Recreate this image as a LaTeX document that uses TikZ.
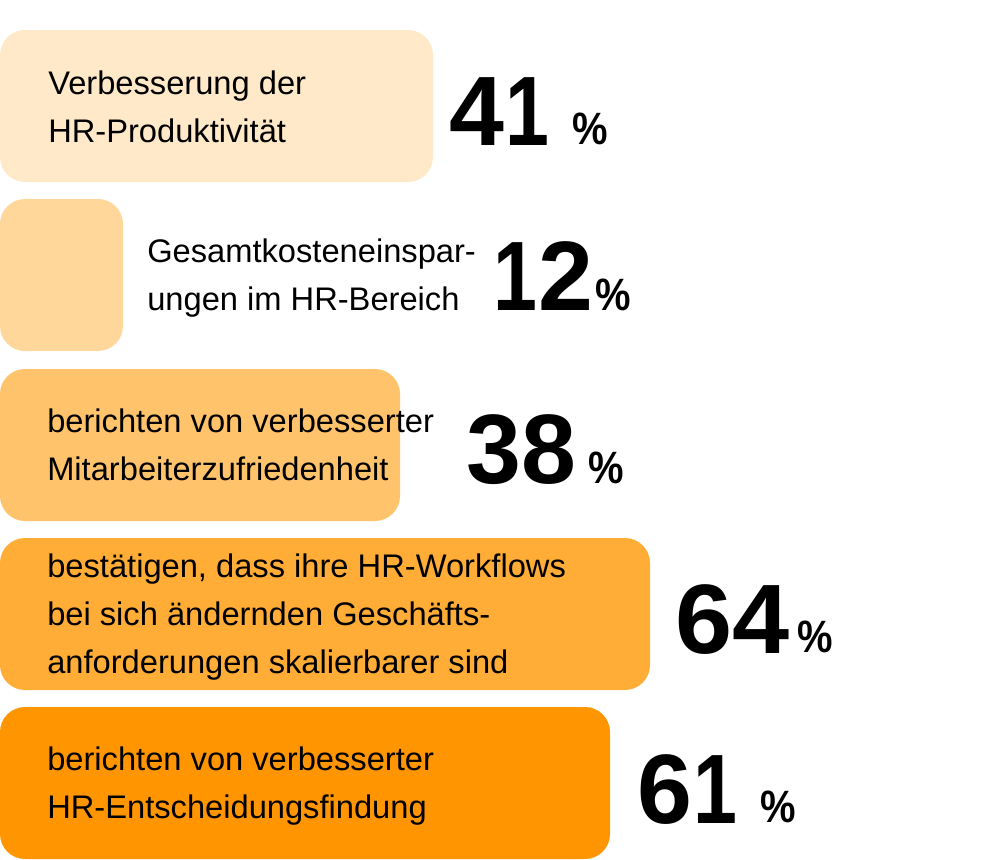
\documentclass[tikz,border=0pt]{standalone}
\usepackage{graphicx}
\usepackage{fontspec}
\setmainfont{Liberation Sans}
\definecolor{cA}{HTML}{FFE9C9}
\definecolor{cB}{HTML}{FFD79A}
\definecolor{cC}{HTML}{FFC36B}
\definecolor{cD}{HTML}{FFAD37}
\definecolor{cE}{HTML}{FF9500}
\tikzset{
  bar/.style={rounded corners=18.75pt},
  lbl/.style={anchor=base west, inner sep=0pt, align=left, font=\fontsize{24.5}{36}\selectfont},
  num/.style={anchor=base west, inner sep=0pt, font=\fontsize{74}{74}\selectfont\bfseries},
  pct/.style={anchor=base west, inner sep=0pt, font=\fontsize{34}{34}\selectfont\bfseries},
}
\newcommand{\lines}[1]{\begin{tabular}[t]{@{}l@{}}#1\end{tabular}}
\newcommand{\pnarrow}[1]{\scalebox{0.88}[1]{#1}}
\newcommand{\one}{\scalebox{0.8}[1]{1}}
\begin{document}
\begin{tikzpicture}[x=0.75pt,y=-0.75pt]
\useasboundingbox (0,0) rectangle (1000,860);
\fill[cA,bar] (0,30) rectangle (433,182);
\fill[cB,bar] (0,199) rectangle (123,351);
\fill[cC,bar] (0,369) rectangle (400,521);
\fill[cD,bar] (0,538) rectangle (650,690);
\fill[cE,bar] (0,707) rectangle (610,859);

\node[lbl] (t1) at (48,94) {\lines{Verbesserung der\\HR-Produktivität}};
\node[lbl] (t2) at (147,262) {\lines{Gesamtkosteneinspar-\\ungen im HR-Bereich}};
\node[lbl] (t3) at (47,432) {\lines{berichten von verbesserter\\Mitarbeiterzufriedenheit}};
\node[lbl] (t4) at (47,577) {\lines{bestätigen, dass ihre HR-Workflows\\bei sich ändernden Geschäfts-\\anforderungen skalierbarer sind}};
\node[lbl] (t5) at (47,770) {\lines{berichten von verbesserter\\HR-Entscheidungsfindung}};

\node[num] (n1) at (449,145) {4\kern0.01em\one};
\node[num] (n2) at (493,310) {\one\kern0.01em 2};
\node[num] (n3) at (466,483) {38};
\node[num] (n4) at (675,653) {\scalebox{1.04}[1]{64}};
\node[num] (n5) at (637,823) {6\kern0.01em\one};

\node[pct] (p1) at (572,144) {\pnarrow{\%}};
\node[pct] (p2) at (595,310) {\pnarrow{\%}};
\node[pct] (p3) at (588,483) {\pnarrow{\%}};
\node[pct] (p4) at (797,652) {\pnarrow{\%}};
\node[pct] (p5) at (760,822) {\pnarrow{\%}};
\end{tikzpicture}
\end{document}
